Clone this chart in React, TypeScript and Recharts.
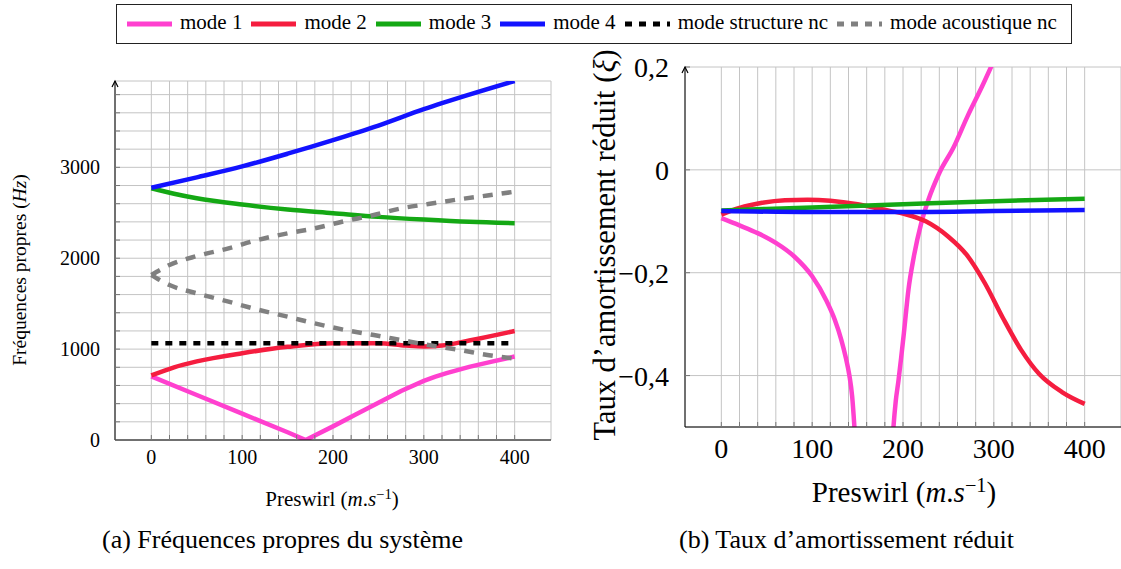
import React from 'react';
import { LineChart, Line, XAxis, YAxis, CartesianGrid } from 'recharts';

const FONT = '"Liberation Serif", "Times New Roman", serif';

// couleurs des modes
const PINK = '#ff40cf';
const RED = '#f51d3f';
const GREEN = '#14a814';
const BLUE = '#1212ff';
const BLACK = '#000000';
const GRAY = '#808080';

// graduations
const X_TICKS = [0, 20, 40, 60, 80, 100, 120, 140, 160, 180, 200, 220, 240, 260, 280, 300, 320, 340, 360, 380, 400];
const FREQ_TICKS = [0, 200, 400, 600, 800, 1000, 1200, 1400, 1600, 1800, 2000, 2200, 2400, 2600, 2800, 3000, 3200, 3400, 3600, 3800];
const DAMP_TICKS = [-0.4, -0.2, 0, 0.2];

// (a) fréquences propres (Hz)
const FREQ_X_M1 = [0, 50, 100, 150, 170, 200, 225, 250, 275, 300, 312, 325, 350, 375, 400];
const FREQ_M1 = [700, 495, 290, 85, 0, 150, 280, 410, 540, 650, 695, 735, 805, 862, 918];
const FREQ_X_M2 = [0, 25, 50, 100, 150, 200, 250, 280, 300, 320, 350, 400];
const FREQ_M2 = [710, 800, 865, 955, 1025, 1065, 1065, 1040, 1030, 1040, 1095, 1200];
const FREQ_X_M3 = [0, 25, 50, 100, 150, 200, 250, 300, 350, 400];
const FREQ_M3 = [2770, 2710, 2660, 2590, 2535, 2495, 2455, 2425, 2400, 2385];
const FREQ_X_M4 = [0, 50, 100, 150, 200, 250, 300, 350, 400];
const FREQ_M4 = [2775, 2890, 3010, 3150, 3300, 3460, 3640, 3800, 3950];
const FREQ_X_STRUCT = [0, 400];
const FREQ_STRUCT = [1065, 1065];
const FREQ_X_ACOU = [0, 20, 50, 85, 115, 150, 180, 210, 245, 275, 305, 340, 370, 400];
const FREQ_ACOU_UP = [1815, 1925, 2024, 2109, 2195, 2274, 2329, 2402, 2475, 2549, 2596, 2650, 2690, 2732];
const FREQ_ACOU_LOW = [1815, 1705, 1614, 1522, 1440, 1357, 1283, 1217, 1155, 1100, 1045, 990, 935, 895];

// (b) taux d'amortissement réduit
const DAMP_X_M1A = [0, 20, 40, 60, 80, 100, 115, 125, 132, 137, 141, 144, 146.5, 148.5];
const DAMP_M1A = [-0.094, -0.108, -0.123, -0.142, -0.168, -0.207, -0.252, -0.292, -0.33, -0.365, -0.4, -0.44, -0.5, -0.56];
const DAMP_X_M1B = [187, 189.5, 192, 195, 198, 201, 206, 212, 220, 228, 240, 256, 271, 287, 302];
const DAMP_M1B = [-0.57, -0.5, -0.45, -0.41, -0.365, -0.317, -0.233, -0.168, -0.104, -0.058, -0.006, 0.045, 0.104, 0.162, 0.22];
const DAMP_X_M2 = [0, 20, 45, 70, 95, 120, 150, 175, 200, 225, 250, 270, 290, 310, 330, 350, 375, 400];
const DAMP_M2 = [-0.087, -0.074, -0.064, -0.059, -0.058, -0.06, -0.067, -0.076, -0.085, -0.1, -0.13, -0.165, -0.22, -0.288, -0.35, -0.397, -0.432, -0.455];
const DAMP_X_M3 = [0, 100, 200, 300, 400];
const DAMP_M3 = [-0.079, -0.073, -0.067, -0.061, -0.056];
const DAMP_X_M4 = [0, 100, 200, 300, 400];
const DAMP_M4 = [-0.08, -0.082, -0.082, -0.08, -0.078];

const LEGEND = [
  { name: 'mode 1', color: PINK, dash: undefined },
  { name: 'mode 2', color: RED, dash: undefined },
  { name: 'mode 3', color: GREEN, dash: undefined },
  { name: 'mode 4', color: BLUE, dash: undefined },
  { name: 'mode structure nc', color: BLACK, dash: '7 7' },
  { name: 'mode acoustique nc', color: GRAY, dash: '7 7' },
];

const pts = (xs: number[], ys: number[]) => xs.map((x, i) => ({ x, y: ys[i] }));

const lineProps = { dataKey: 'y', dot: false, isAnimationActive: false, strokeWidth: 4.5 };

const frFmt = (v: number) => String(v).replace('.', ',').replace('-', '\u2212');

const Label = ({ x, y, fs, children, rotate, center = true }: any) => (
  <div
    style={{
      position: 'absolute',
      left: x,
      top: y,
      fontSize: fs,
      lineHeight: 1,
      whiteSpace: 'nowrap',
      transform: rotate ? 'translate(-50%, -50%) rotate(-90deg)' : center ? 'translateX(-50%)' : undefined,
    }}
  >
    {children}
  </div>
);

const Sup = ({ children }: any) => (
  <span style={{ fontSize: '0.7em', position: 'relative', top: '-0.5em' }}>{children}</span>
);

export default function App() {
  const xCommon = {
    type: 'number' as const,
    dataKey: 'x',
    domain: [-40, 440],
    ticks: X_TICKS,
    interval: 0 as const,
    allowDataOverflow: true,
    tickSize: -5,
    tickLine: { stroke: '#777' },
    axisLine: { stroke: '#000' },
  };

  return (
    <div style={{ position: 'absolute', left: 0, top: 0, width: 1121, height: 569, background: '#fff', fontFamily: FONT, color: '#000', overflow: 'hidden' }}>
      {/* légende commune */}
      <div
        style={{
          position: 'absolute',
          left: 116,
          top: 4,
          height: 38,
          border: '1px solid #222',
          display: 'flex',
          alignItems: 'center',
          padding: '0 5px 0 10px',
          fontSize: 21,
          lineHeight: 1,
        }}
      >
        {LEGEND.map((s) => (
          <div key={s.name} style={{ display: 'flex', alignItems: 'center', marginRight: 9 }}>
            <svg width={45} height={10} style={{ marginRight: 8 }}>
              <line x1={0} y1={5} x2={45} y2={5} stroke={s.color} strokeWidth={5} strokeDasharray={s.dash} />
            </svg>
            <span style={{ position: 'relative', top: -2 }}>{s.name}</span>
          </div>
        ))}
      </div>

      {/* (a) fréquences propres */}
      <div style={{ position: 'absolute', left: 0, top: 0 }}>
        <LineChart width={560} height={569} margin={{ top: 81, right: 9, bottom: 0, left: 0 }}>
          <CartesianGrid stroke="#c4c4c4" />
          <XAxis
            {...xCommon}
            height={129}
            tickMargin={15}
            tick={{ fontSize: 20, fill: '#000', fontFamily: FONT }}
            tickFormatter={(v: number) => (v % 100 === 0 ? String(v) : '')}
          />
          <XAxis {...xCommon} xAxisId="top" orientation="top" height={0} tick={false} />
          <YAxis
            type="number"
            domain={[0, 3950]}
            ticks={FREQ_TICKS}
            interval={0}
            allowDataOverflow
            width={115}
            tickSize={-5}
            tickMargin={20}
            tickLine={{ stroke: '#777' }}
            axisLine={{ stroke: '#000' }}
            tick={{ fontSize: 20, fill: '#000', fontFamily: FONT }}
            tickFormatter={(v: number) => (v % 1000 === 0 ? String(v) : '')}
          />
          <Line {...lineProps} data={pts(FREQ_X_M1, FREQ_M1)} type="linear" stroke={PINK} />
          <Line {...lineProps} data={pts(FREQ_X_M2, FREQ_M2)} type="monotone" stroke={RED} />
          <Line {...lineProps} data={pts(FREQ_X_M3, FREQ_M3)} type="monotone" stroke={GREEN} />
          <Line {...lineProps} data={pts(FREQ_X_M4, FREQ_M4)} type="monotone" stroke={BLUE} />
          <Line {...lineProps} data={pts(FREQ_X_STRUCT, FREQ_STRUCT)} type="linear" stroke={BLACK} strokeDasharray="7 7" />
          <Line {...lineProps} data={pts(FREQ_X_ACOU, FREQ_ACOU_UP)} type="monotone" stroke={GRAY} strokeDasharray="10 9" />
          <Line {...lineProps} data={pts(FREQ_X_ACOU, FREQ_ACOU_LOW)} type="monotone" stroke={GRAY} strokeDasharray="10 9" />
        </LineChart>
      </div>

      {/* (b) taux d'amortissement */}
      <div style={{ position: 'absolute', left: 560, top: 0 }}>
        <LineChart width={561} height={569} margin={{ top: 67, right: 0, bottom: 0, left: 0 }}>
          <CartesianGrid stroke="#c4c4c4" />
          <XAxis
            {...xCommon}
            height={142}
            tickMargin={16}
            tick={{ fontSize: 28, fill: '#000', fontFamily: FONT }}
            tickFormatter={(v: number) => (v % 100 === 0 ? String(v) : '')}
          />
          <XAxis {...xCommon} xAxisId="top" orientation="top" height={0} tick={false} />
          <YAxis
            type="number"
            domain={[-0.5, 0.2]}
            ticks={DAMP_TICKS}
            interval={0}
            allowDataOverflow
            width={125}
            tickSize={-5}
            tickMargin={21}
            tickLine={{ stroke: '#777' }}
            axisLine={{ stroke: '#000' }}
            tick={{ fontSize: 28, fill: '#000', fontFamily: FONT }}
            tickFormatter={frFmt}
          />
          <Line {...lineProps} data={pts(DAMP_X_M1A, DAMP_M1A)} type="monotone" stroke={PINK} />
          <Line {...lineProps} data={pts(DAMP_X_M1B, DAMP_M1B)} type="monotone" stroke={PINK} />
          <Line {...lineProps} data={pts(DAMP_X_M2, DAMP_M2)} type="monotone" stroke={RED} />
          <Line {...lineProps} data={pts(DAMP_X_M3, DAMP_M3)} type="monotone" stroke={GREEN} />
          <Line {...lineProps} data={pts(DAMP_X_M4, DAMP_M4)} type="monotone" stroke={BLUE} />
        </LineChart>
      </div>

      {/* flèches des axes verticaux */}
      <svg width={1121} height={569} style={{ position: 'absolute', left: 0, top: 0, pointerEvents: 'none' }}>
        <path d="M112,87 L115,81 L118,87" fill="none" stroke="#000" strokeWidth={1.2} />
        <path d="M682,73 L685,67 L688,73" fill="none" stroke="#000" strokeWidth={1.2} />
      </svg>

      {/* titres d'axes */}
      <Label x={20} y={270} fs={19.5} rotate>
        Fréquences propres (<i>Hz</i>)
      </Label>
      <Label x={332} y={489} fs={21}>
        Preswirl (<i>m</i>.<i>s</i>
        <Sup>−1</Sup>)
      </Label>
      <Label x={605} y={245} fs={30.5} rotate>
        Taux d’amortissement réduit (<i>ξ</i>)
      </Label>
      <Label x={904} y={478} fs={29}>
        Preswirl (<i>m</i>.<i>s</i>
        <Sup>−1</Sup>)
      </Label>

      {/* légendes des sous-figures */}
      <Label x={102} y={527} fs={26} center={false}>
        (a) Fréquences propres du système
      </Label>
      <Label x={679} y={527} fs={26} center={false}>
        (b) Taux d’amortissement réduit
      </Label>
    </div>
  );
}
